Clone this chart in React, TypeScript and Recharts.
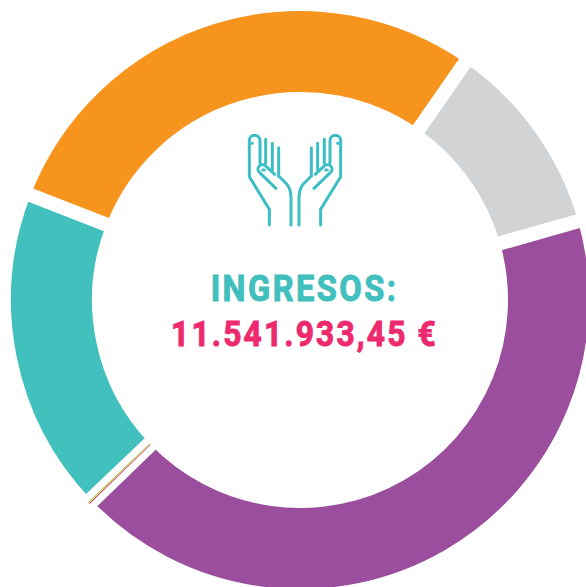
import { PieChart, Pie, Cell } from 'recharts';

// share of income per slice, in percent, clockwise from the teal slice
const categories = ['Teal', 'Naranja', 'Gris', 'Morado', 'Rosa', 'Marron', 'Verde'];
const shares = [18.03, 28.75, 10.94, 42.14, 0.05, 0.01, 0.08];
const colors = ['#41C0BE', '#F7941D', '#D1D3D4', '#9A4E9D', '#EE2A6F', '#C9A24A', '#B4DA6A'];
const thin = [false, false, false, false, true, true, true];
const title = 'INGRESOS:';
const amount = '11.541.933,45 €';

const data = categories.map((name, i) => ({ name, value: shares[i] }));

const ICON_COLOR = '#3DBDC4';
const noMargin = { top: 0, right: 0, bottom: 0, left: 0 };

const Hand = ({ transform }: { transform?: string }) => (
  <g transform={transform}>
    <path d="M118 315 V268 L58 170 V62 A16 16 0 0 1 90 62 V130" />
    <path d="M66 70 H67" />
    <path d="M107 58 V130" />
    <path d="M127 70 V150" />
    <path d="M146 83 V168" />
    <path d="M146 168 L170 192 Q183 207 183 235 V315" />
    <path d="M138 205 L89 158 A12 12 0 0 1 106 137 L134 163" />
    <path d="M98 150 H103" />
  </g>
);

export default function App() {
  return (
    <div style={{ position: 'absolute', left: 0, top: 0, width: 586, height: 587, overflow: 'hidden' }}>
      <PieChart width={586} height={587} margin={noMargin}>
        <Pie
          data={data}
          dataKey="value"
          cx={300}
          cy={300}
          innerRadius={201}
          outerRadius={296}
          startAngle={223.6}
          endAngle={-136.4}
          stroke="none"
          isAnimationActive={false}
        >
          {data.map((d, i) => (
            <Cell
              key={d.name}
              fill={thin[i] ? 'none' : colors[i]}
              stroke={thin[i] ? 'none' : '#fff'}
              strokeWidth={thin[i] ? 0 : 14}
              strokeLinejoin="miter"
            />
          ))}
        </Pie>
        <Pie
          data={data}
          dataKey="value"
          cx={300}
          cy={300}
          innerRadius={208}
          outerRadius={293}
          startAngle={223.6}
          endAngle={-136.4}
          stroke="none"
          isAnimationActive={false}
        >
          {data.map((d, i) => (
            <Cell key={d.name} fill={thin[i] ? colors[i] : 'none'} stroke="none" />
          ))}
        </Pie>
        <g
          transform="translate(230 120) scale(0.3333)"
          fill="none"
          stroke={ICON_COLOR}
          strokeWidth={9}
          strokeLinecap="round"
          strokeLinejoin="round"
        >
          <Hand />
          <Hand transform="matrix(-1 0 0 1 390 0)" />
        </g>
        {/* condensed a little to get closer to the DIN look of the original */}
        <text
          transform="translate(304.5 301) scale(0.88 1)"
          textAnchor="middle"
          fontFamily="Roboto"
          fontWeight={700}
          fontSize={37}
          letterSpacing={2.8}
          fill="#40BFBD"
          stroke="#40BFBD"
          strokeWidth={1}
        >
          {title}
        </text>
        <text
          transform="translate(304.5 346) scale(0.88 1)"
          textAnchor="middle"
          fontFamily="Roboto"
          fontWeight={700}
          fontSize={36}
          letterSpacing={2.5}
          fill="#EE2A6F"
          stroke="#EE2A6F"
          strokeWidth={1}
        >
          {amount}
        </text>
      </PieChart>
    </div>
  );
}
